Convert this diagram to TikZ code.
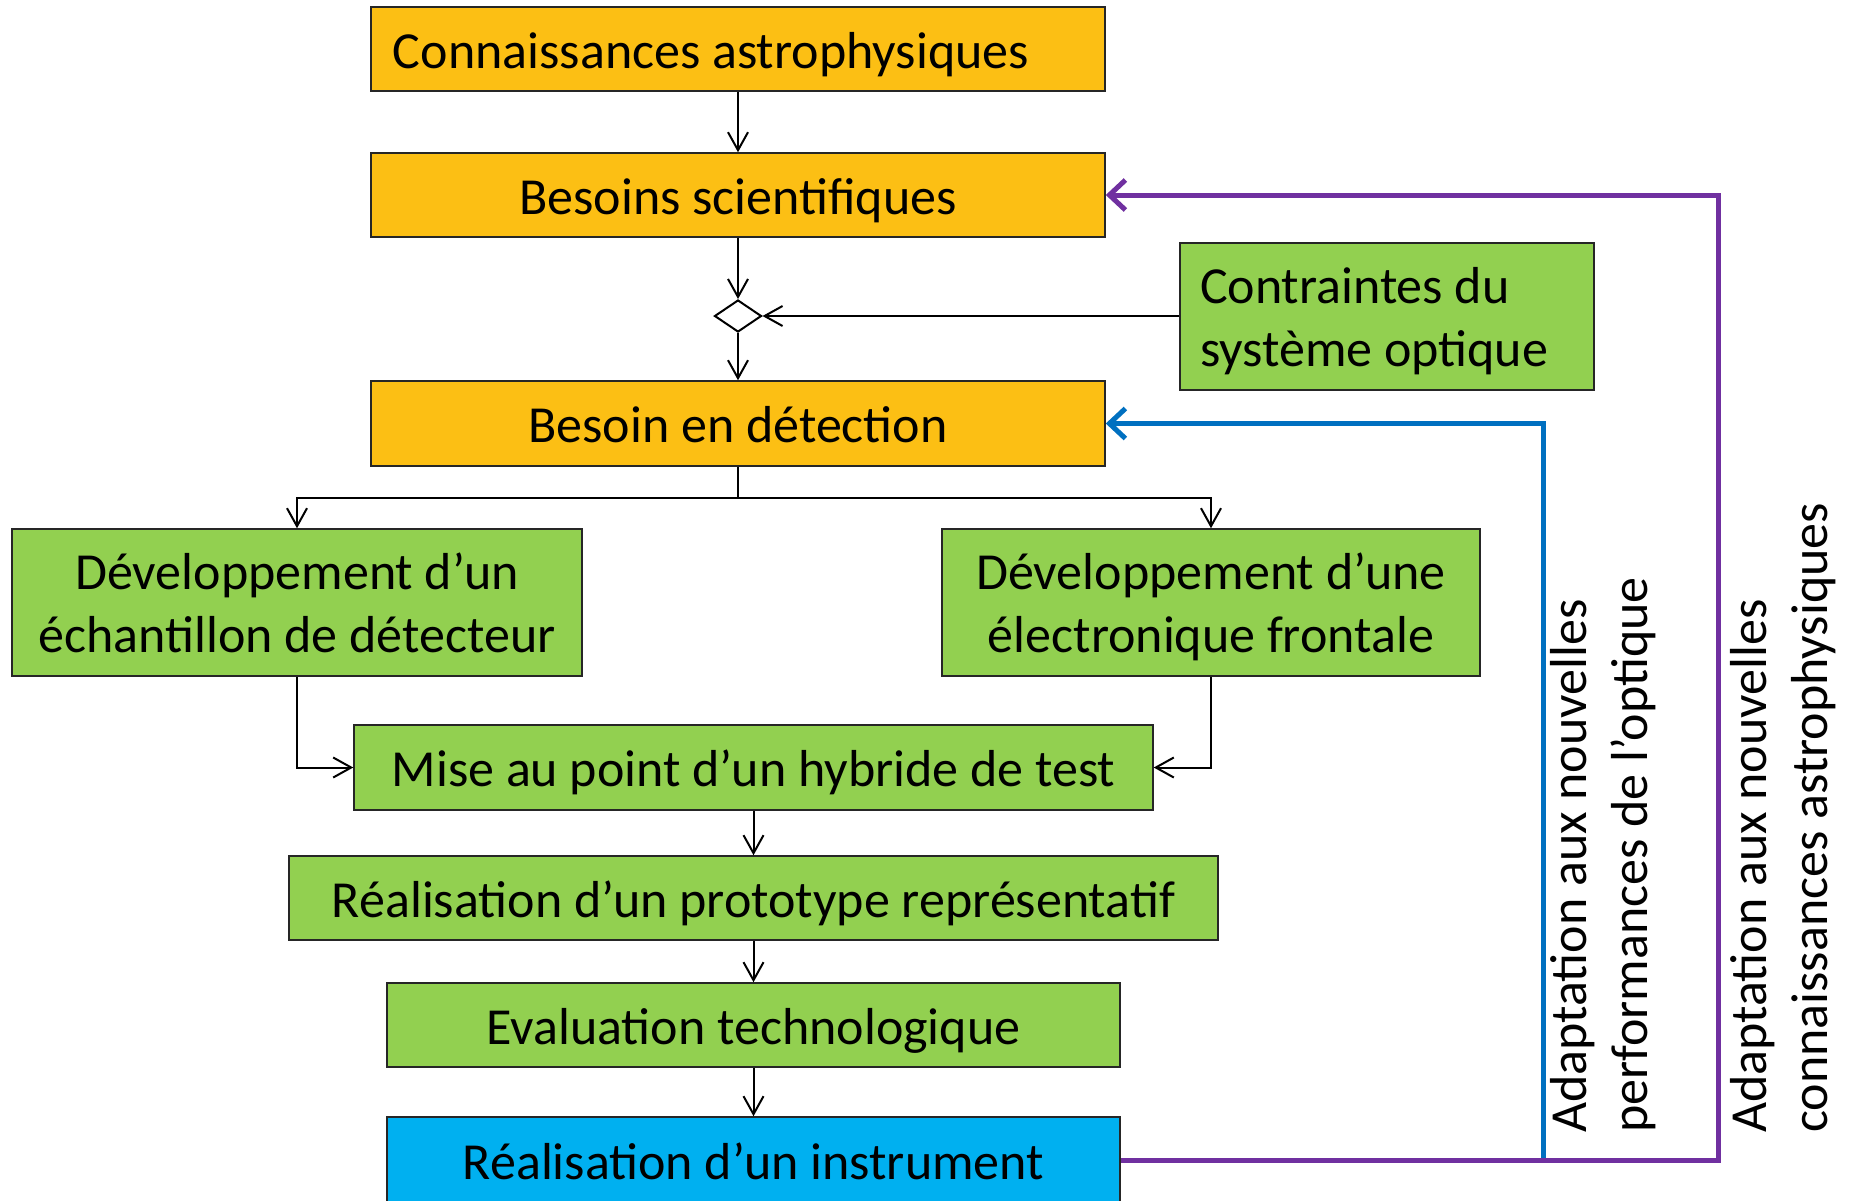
\documentclass[tikz,border=0pt]{standalone}
\usepackage{fontspec}
\setmainfont{Carlito}
\usetikzlibrary{arrows.meta,shapes.geometric}
\definecolor{boxorange}{HTML}{FCBF14}
\definecolor{boxgreen}{HTML}{92D050}
\definecolor{boxblue}{HTML}{00B0F0}
\definecolor{loopblue}{HTML}{0070C0}
\definecolor{looppurple}{HTML}{7030A0}
\begin{document}
\begin{tikzpicture}[x=1pt,y=-1pt,
  every node/.style={font=\fontsize{52}{63}\selectfont},
  box/.style={draw=black!85, line width=1.5pt, rectangle, inner sep=0pt, align=center, text depth=0pt},
  oneline/.style={text height=42pt, text depth=4pt},
  orangebox/.style={box, fill=boxorange},
  greenbox/.style={box, fill=boxgreen},
  bluebox/.style={box, fill=boxblue},
  flow/.style={draw=black, line width=2pt, -{Straight Barb[length=18pt,width=20pt]}},
  plain/.style={draw=black, line width=2pt},
  feedback/.style={line width=5pt, -{Straight Barb[length=16pt,width=30pt]}},
  sidelabel/.style={rotate=90, align=left, inner sep=0pt, anchor=north west,
                    font=\fontsize{52}{61}\selectfont},
  merge/.style={diamond, draw=black, line width=2pt, fill=white, inner sep=0pt,
                minimum width=47pt, minimum height=32pt}
]
\useasboundingbox (0,0) rectangle (1851,1200);

% main chain
\node[orangebox, oneline, minimum width=734pt, minimum height=84pt] (astro) at (738,49)
  {Connaissances astrophysiques\hspace*{54pt}};
\node[orangebox, oneline, minimum width=734pt, minimum height=84pt] (besoins) at (738,195) {Besoins scientifiques};
\node[merge] (join) at (738,316) {};
\node[greenbox, align=flush left, text width=374pt, inner xsep=20pt, minimum height=147pt,
      text height=36pt, text depth=63pt] (optique) at (1387,316.5)
  {Contraintes du\\système optique};
\node[orangebox, oneline, minimum width=734pt, minimum height=85pt] (detection) at (738,423.5) {Besoin en détection};
\node[greenbox, minimum width=570pt, minimum height=147pt] (echant) at (297,602.5)
  {Développement d’un\\échantillon de détecteur};
\node[greenbox, minimum width=538pt, minimum height=147pt] (electro) at (1211,602.5)
  {Développement d’une\\électronique frontale};
\node[greenbox, oneline, minimum width=799pt, minimum height=85pt] (hybride) at (753.5,767.5) {Mise au point d’un hybride de test};
\node[greenbox, oneline, minimum width=929pt, minimum height=84pt] (proto) at (753.5,898) {Réalisation d’un prototype représentatif};
\node[greenbox, oneline, minimum width=733pt, minimum height=84pt] (evalu) at (753.5,1025) {Evaluation technologique};
\node[bluebox, oneline, minimum width=733pt, minimum height=87pt] (instr) at (753.5,1160.5) {Réalisation d’un instrument};

% connectors
\draw[flow] (astro.south) -- (besoins.north);
\draw[flow] (besoins.south) -- (join.north);
\draw[flow] (optique.west |- join.east) -- (join.east);
\draw[flow] (join.south) -- (detection.north);
\draw[plain] (detection.south) -- ++(0,31) coordinate (split);
\draw[flow] (split) -| (echant.north);
\draw[flow] (split) -| (electro.north);
\draw[flow] (echant.south) |- (hybride.west);
\draw[flow] (electro.south) |- (hybride.east);
\draw[flow] (hybride.south) -- (proto.north);
\draw[flow] (proto.south) -- (evalu.north);
\draw[flow] (evalu.south) -- (instr.north);

% feedback loops
\coordinate (blueturn) at (1543,1160);
\coordinate (purpleturn) at (1718,1160);
\draw[feedback, draw=loopblue, color=loopblue] (blueturn) |- (detection.east);
\draw[feedback, draw=looppurple, color=looppurple] (instr.east |- purpleturn) -- (purpleturn) |- (besoins.east);

% loop labels
\node[sidelabel] (lbloptique) at (1550,1133) {Adaptation aux nouvelles\\performances de l’optique};
\node[sidelabel] (lblastro) at (1730,1133) {Adaptation aux nouvelles\\connaissances astrophysiques};
\end{tikzpicture}
\end{document}
